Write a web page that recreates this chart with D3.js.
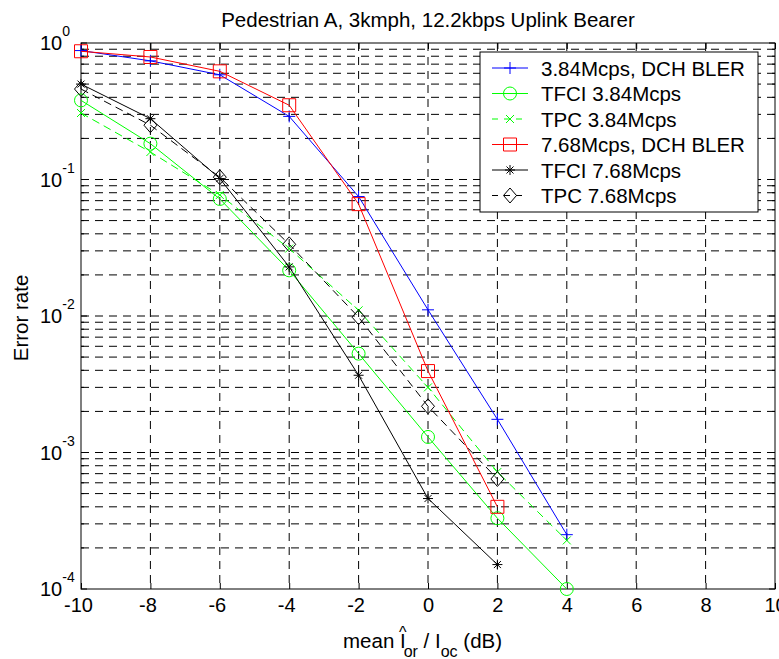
<!DOCTYPE html>
<html>
<head>
<meta charset="utf-8">
<script src="https://cdn.jsdelivr.net/npm/d3@7"></script>
<style>
body { margin: 0; background: #fff; }
text { font-family: "Liberation Sans", Arial, Helvetica, sans-serif; fill: #000; }
</style>
</head>
<body>
<div id="chart"></div>
<script>
// SNR points (dB)
const snr = [-10, -8, -6, -4, -2, 0, 2, 4];

// error rates
const dch384  = [0.88, 0.74, 0.585, 0.29, 0.075, 0.0111, 0.00175, 0.00025];
const tfci384 = [0.38, 0.183, 0.072, 0.0216, 0.0053, 0.0013, 0.00033, 0.0001];
const tpc384  = [0.307, 0.159, 0.077, 0.0312, 0.011, 0.0030, 0.00072, 0.000227];
const dch768  = [0.87, 0.79, 0.62, 0.35, 0.066, 0.00395, 0.0004];
const tfci768 = [0.50, 0.279, 0.1016, 0.0229, 0.00368, 0.00046, 0.000151];
const tpc768  = [0.46, 0.25, 0.104, 0.0335, 0.0098, 0.00218, 0.00064];

const seriesNames = ['3.84Mcps, DCH BLER', 'TFCI 3.84Mcps', 'TPC 3.84Mcps',
                     '7.68Mcps, DCH BLER', 'TFCI 7.68Mcps', 'TPC 7.68Mcps'];

const xTicks = [-10, -8, -6, -4, -2, 0, 2, 4, 6, 8, 10];
const yDecades = [1e-4, 1e-3, 1e-2, 1e-1, 1];

const width = 779, height = 659;
const margin = {top: 43, right: 4, bottom: 70, left: 81};

const series = [
  {name: seriesNames[0], values: dch384,  color: '#0000ff', dash: null,  marker: 'plus'},
  {name: seriesNames[1], values: tfci384, color: '#00ff00', dash: null,  marker: 'circle'},
  {name: seriesNames[2], values: tpc384,  color: '#00ff00', dash: '8,5', marker: 'x'},
  {name: seriesNames[3], values: dch768,  color: '#ff0000', dash: null,  marker: 'square'},
  {name: seriesNames[4], values: tfci768, color: '#000000', dash: null,  marker: 'star'},
  {name: seriesNames[5], values: tpc768,  color: '#000000', dash: '8,5', marker: 'diamond'}
];

const svg = d3.select('#chart')
  .append('svg')
  .attr('width', width)
  .attr('height', height);

svg.append('rect').attr('width', width).attr('height', height).attr('fill', 'white');

const x = d3.scaleLinear()
  .domain([-10, 10])
  .range([margin.left, width - margin.right]);

const y = d3.scaleLog()
  .domain([1e-4, 1])
  .range([height - margin.bottom, margin.top]);

const isDecade = v => Math.abs(Math.log10(v) - Math.round(Math.log10(v))) < 1e-6;

// grid
const grid = svg.append('g')
  .attr('stroke', '#000')
  .attr('stroke-width', 1)
  .attr('stroke-dasharray', '8,6')
  .attr('fill', 'none');

grid.selectAll('line.vg')
  .data(xTicks.slice(1, -1))
  .join('line')
  .attr('class', 'vg')
  .attr('x1', d => x(d)).attr('x2', d => x(d))
  .attr('y1', y(1)).attr('y2', y(1e-4));

grid.selectAll('line.hg')
  .data(y.ticks().filter(v => v > 1.0001e-4 && v < 0.9999))
  .join('line')
  .attr('class', 'hg')
  .attr('x1', x(-10)).attr('x2', x(10))
  .attr('y1', d => y(d)).attr('y2', d => y(d));

// ticks on all four sides, pointing in
function xAxis(g) {
  g.attr('transform', `translate(0,${y(1e-4)})`)
    .call(d3.axisBottom(x).tickValues(xTicks).tickSizeInner(-6).tickSizeOuter(0).tickPadding(9)
      .tickFormat(d => d < 0 ? '-' + Math.abs(d) : d))
    .call(g => g.select('.domain').remove())
    .call(g => g.selectAll('text')
      .attr('font-size', 20)
      .attr('font-family', '"Liberation Sans", Arial, sans-serif')
      .attr('dx', d => d < 0 ? -3 : 0));
}
svg.append('g').call(xAxis);

svg.append('g')
  .attr('transform', `translate(0,${y(1)})`)
  .call(d3.axisTop(x).tickValues(xTicks).tickSizeInner(-6).tickSizeOuter(0).tickFormat(''))
  .call(g => g.select('.domain').remove());

const yAll = y.ticks();
[['left', x(-10), 1], ['right', x(10), -1]].forEach(([side, px, dir]) => {
  svg.append('g')
    .attr('stroke', '#000')
    .selectAll('line')
    .data(yAll)
    .join('line')
    .attr('x1', px)
    .attr('x2', d => px + dir * (isDecade(d) ? 6 : 3))
    .attr('y1', d => y(d)).attr('y2', d => y(d));
});

// y tick labels 10^n
const yLab = svg.append('g');
yDecades.forEach(d => {
  const t = yLab.append('text')
    .attr('x', 40)
    .attr('y', y(d) + 7)
    .attr('font-size', 20);
  t.append('tspan').text('10');
  t.append('tspan')
    .attr('font-size', 14)
    .attr('dy', -14)
    .text(Math.round(Math.log10(d)) === 0 ? '0' : '-' + Math.abs(Math.round(Math.log10(d))));
});

// plot box
svg.append('rect')
  .attr('x', x(-10)).attr('y', y(1))
  .attr('width', x(10) - x(-10))
  .attr('height', y(1e-4) - y(1))
  .attr('fill', 'none')
  .attr('stroke', '#000')
  .attr('stroke-width', 1);

// markers
function marker(g, type, cx, cy, color) {
  let p;
  if (type === 'plus') {
    p = `M${cx - 6},${cy}H${cx + 6}M${cx},${cy - 6}V${cy + 6}`;
  } else if (type === 'x') {
    p = `M${cx - 4},${cy - 4}L${cx + 4},${cy + 4}M${cx - 4},${cy + 4}L${cx + 4},${cy - 4}`;
  } else if (type === 'star') {
    p = `M${cx - 5},${cy}H${cx + 5}M${cx},${cy - 5}V${cy + 5}` +
        `M${cx - 3.5},${cy - 3.5}L${cx + 3.5},${cy + 3.5}M${cx - 3.5},${cy + 3.5}L${cx + 3.5},${cy - 3.5}`;
  } else if (type === 'square') {
    p = `M${cx - 6.5},${cy - 6.5}h13v13h-13Z`;
  } else if (type === 'diamond') {
    p = `M${cx},${cy - 7.5}L${cx + 6.5},${cy}L${cx},${cy + 7.5}L${cx - 6.5},${cy}Z`;
  }
  if (type === 'circle') {
    g.append('circle').attr('cx', cx).attr('cy', cy).attr('r', 6.5)
      .attr('fill', 'none').attr('stroke', color).attr('stroke-width', 1);
  } else {
    g.append('path').attr('d', p)
      .attr('fill', 'none').attr('stroke', color).attr('stroke-width', 1);
  }
}

const line = d3.line()
  .x((d, i) => x(snr[i]))
  .y(d => y(d));

const plot = svg.append('g');
series.forEach(s => {
  const g = plot.append('g');
  g.append('path')
    .attr('d', line(s.values))
    .attr('fill', 'none')
    .attr('stroke', s.color)
    .attr('stroke-width', 1)
    .attr('stroke-dasharray', s.dash);
  s.values.forEach((v, i) => marker(g, s.marker, x(snr[i]), y(v), s.color));
});

// legend
const leg = svg.append('g');
leg.append('rect')
  .attr('x', 480).attr('y', 52)
  .attr('width', 278).attr('height', 160)
  .attr('fill', 'white')
  .attr('stroke', '#000');

series.forEach((s, i) => {
  const cy = 68 + i * 25.5;
  leg.append('line')
    .attr('x1', 492).attr('x2', 528)
    .attr('y1', cy).attr('y2', cy)
    .attr('stroke', s.color)
    .attr('stroke-dasharray', s.dash ? '6,6' : null);
  marker(leg, s.marker, 510, cy, s.color);
  leg.append('text')
    .attr('x', 541).attr('y', cy + 7.5)
    .attr('font-size', 20.5)
    .text(s.name);
});

// title
svg.append('text')
  .attr('x', 428).attr('y', 26.5)
  .attr('text-anchor', 'middle')
  .attr('font-size', 20.5)
  .text('Pedestrian A, 3kmph, 12.2kbps Uplink Bearer');

// y label
svg.append('text')
  .attr('transform', 'translate(28,318) rotate(-90)')
  .attr('text-anchor', 'middle')
  .attr('font-size', 20.5)
  .text('Error rate');

// x label with hat and subscripts
const xl = svg.append('text')
  .attr('x', 343).attr('y', 648)
  .attr('font-size', 20.5);
xl.append('tspan').text('mean I');
xl.append('tspan').attr('font-size', 16).attr('dy', 8.5).attr('dx', -2).text('or');
xl.append('tspan').attr('dy', -8.5).text(' / I');
xl.append('tspan').attr('font-size', 16).attr('dy', 8.5).text('oc');
xl.append('tspan').attr('dy', -8.5).text(' (dB)');

const ext = xl.node().getExtentOfChar(5);
svg.append('text')
  .attr('x', ext.x + ext.width / 2)
  .attr('y', 638)
  .attr('text-anchor', 'middle')
  .attr('font-size', 16)
  .text('^');
</script>
</body>
</html>
